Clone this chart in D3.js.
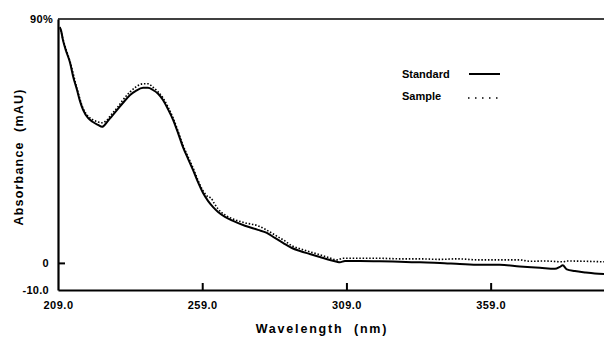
<!DOCTYPE html>
<html><head><meta charset="utf-8">
<script src="https://cdn.jsdelivr.net/npm/d3@7"></script>
<style>
html,body{margin:0;padding:0;background:#fff;}
svg{display:block;}
text{font-family:"Liberation Sans",Arial,Helvetica,sans-serif;font-weight:bold;fill:#000;}
</style></head>
<body>
<svg id="chart" width="604" height="340"></svg>
<script>
// Wavelength (nm) and absorbance (mAU)
const standardWl = [209.7,210.0,210.7,211.8,213.2,214.2,215.6,216.6,217.7,219.4,221.1,222.9,224.3,226.0,227.7,229.5,231.5,234.0,236.0,238.5,240.2,241.9,243.7,245.4,247.1,248.9,250.6,252.3,254.1,255.8,257.5,259.3,261.0,262.7,264.5,266.9,269.7,273.8,278.3,281.4,284.2,287.0,290.1,292.9,296.3,299.8,303.3,305.7,306.7,308.5,313.7,320.6,327.5,334.5,341.4,348.3,355.3,362.2,369.1,376.1,381.3,383.0,384.0,385.4,388.2,391.7,395.1,398.3];
const standardAbs = [86.7,86.0,82.3,78.2,73.8,69.0,63.8,59.8,56.5,53.5,52.0,50.9,50.2,52.0,54.2,56.5,59.0,62.0,63.5,64.6,64.6,63.8,62.4,60.1,56.8,52.8,48.0,42.8,38.4,34.3,29.9,25.8,22.9,20.7,18.8,17.0,15.5,13.7,12.2,11.1,9.2,7.4,5.5,4.4,3.3,2.2,1.1,0.4,0.2,0.7,0.7,0.6,0.4,0.2,0.0,-0.4,-0.7,-0.7,-1.3,-1.8,-2.2,-1.5,-0.9,-2.4,-3.0,-3.5,-3.9,-4.1];
const sampleWl = [209.7,210.7,213.2,215.6,217.7,219.4,221.1,222.9,224.3,226.0,227.7,229.5,231.5,234.0,236.0,238.5,240.2,241.9,243.7,245.4,247.1,248.9,250.6,252.3,254.1,255.8,257.5,259.3,261.0,262.0,263.1,264.5,266.9,269.7,273.8,278.3,280.7,282.5,285.3,287.7,290.1,292.9,296.3,299.8,303.3,305.7,307.8,313.7,320.6,327.5,334.5,341.4,347.3,355.3,362.2,369.1,372.6,377.8,384.0,385.4,391.7,398.3];
const sampleAbs = [87.1,82.7,74.2,64.3,57.0,54.2,52.8,52.0,51.7,52.8,55.0,57.2,60.1,63.1,64.9,66.1,66.1,64.9,63.1,60.9,57.6,53.5,48.7,43.5,39.1,35.1,30.6,26.6,24.4,24.0,22.1,19.9,17.7,16.2,14.8,13.7,12.5,11.4,9.6,8.1,6.3,5.2,4.1,3.0,1.8,1.1,1.7,1.7,1.7,1.5,1.5,1.3,1.5,1.1,1.1,1.1,0.6,0.7,0.4,0.7,0.6,0.4];
const xTicks = [209, 259, 309, 359];
const xTickLabels = ["209.0", "259.0", "309.0", "359.0"];
const yTicks = [-10, 0, 90];
const yTickLabels = ["-10.0", "0", "90%"];
const seriesNames = ["Standard", "Sample"];

const svg = d3.select("#chart");
const L = 58, R = 604, T = 19, B = 290;
const x = d3.scaleLinear().domain([209, 398.3]).range([L, R]);
const y = d3.scaleLinear().domain([-10, 90]).range([B, T]);

// top border
svg.append("line").attr("x1", L).attr("x2", R).attr("y1", T).attr("y2", T)
  .attr("stroke", "#000").attr("stroke-width", 1.6);

// x axis
const xAxis = d3.axisBottom(x).tickValues(xTicks)
  .tickFormat((d, i) => xTickLabels[i]).tickSizeInner(-7).tickSizeOuter(0).tickPadding(11);
const gx = svg.append("g").attr("transform", `translate(0,${B})`).call(xAxis);
gx.select(".domain").attr("stroke-width", 2.2);
gx.selectAll(".tick line").attr("stroke-width", 2).filter(d => d === 209).remove();
gx.selectAll(".tick text").attr("font-size", 11).attr("font-family", null).style("letter-spacing", "0.5px");

// y axis
const yAxis = d3.axisLeft(y).tickValues(yTicks)
  .tickFormat((d, i) => yTickLabels[i]).tickSizeInner(-7).tickSizeOuter(0).tickPadding(9);
const gy = svg.append("g").attr("transform", `translate(${L},0)`).call(yAxis);
gy.select(".domain").attr("stroke-width", 2.2);
gy.selectAll(".tick line").attr("stroke-width", 2).filter(d => d !== 0).remove();
gy.selectAll(".tick text").attr("font-size", 11).attr("font-family", null).style("letter-spacing", "0.3px")
  .attr("dx", d => d === 90 ? 4 : 0);

const line = d3.line().x(d => x(d[0])).y(d => y(d[1])).curve(d3.curveMonotoneX);
const stdData = standardWl.map((w, i) => [w, standardAbs[i]]);
const smpData = sampleWl.map((w, i) => [w, sampleAbs[i]]);

svg.append("path").datum(smpData).attr("d", line).attr("fill", "none")
  .attr("stroke", "#000").attr("stroke-width", 1.6).attr("stroke-dasharray", "1.5,1.8");
svg.append("path").datum(stdData).attr("d", line).attr("fill", "none")
  .attr("stroke", "#000").attr("stroke-width", 2);

// legend
const leg = svg.append("g");
leg.append("text").attr("x", 402).attr("y", 78).attr("font-size", 11).text(seriesNames[0]);
leg.append("line").attr("x1", 469).attr("x2", 500).attr("y1", 74).attr("y2", 74)
  .attr("stroke", "#000").attr("stroke-width", 2);
leg.append("text").attr("x", 402).attr("y", 100).attr("font-size", 11).text(seriesNames[1]);
leg.append("line").attr("x1", 468).attr("x2", 501).attr("y1", 98).attr("y2", 98)
  .attr("stroke", "#000").attr("stroke-width", 1.4).attr("stroke-dasharray", "1.5,5.5");

// axis titles
svg.append("text").attr("x", 322).attr("y", 333).attr("text-anchor", "middle")
  .attr("font-size", 12.5).style("letter-spacing", "1.8px").attr("xml:space", "preserve")
  .text("Wavelength  (nm)");
svg.append("text").attr("transform", "translate(23,157) rotate(-90)").attr("text-anchor", "middle")
  .attr("font-size", 12.5).style("letter-spacing", "1.2px").attr("xml:space", "preserve")
  .text("Absorbance  (mAU)");
</script>
</body></html>
